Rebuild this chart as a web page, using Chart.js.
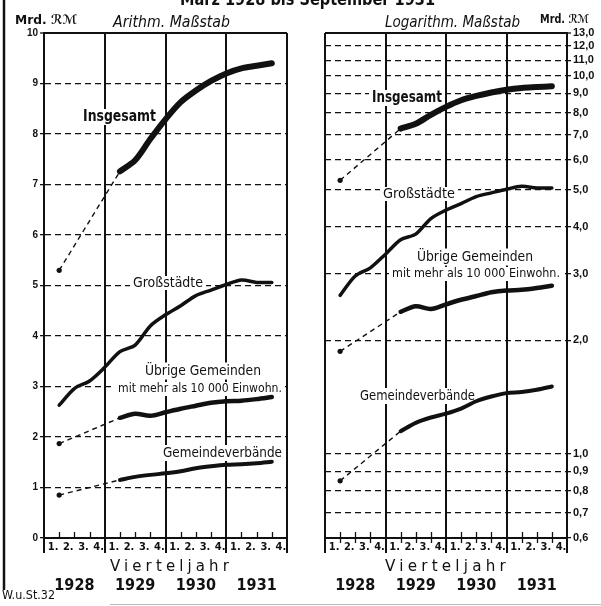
<!DOCTYPE html>
<html>
<head>
<meta charset="utf-8">
<script src="https://cdn.jsdelivr.net/npm/chart.js@4.4.0/dist/chart.umd.min.js"></script>
<style>
  html, body { margin: 0; padding: 0; background: #fff; }
  #wrap { position: relative; width: 601px; height: 606px; overflow: hidden; background: #fff; }
  canvas { position: absolute; left: 0; top: 0; }
</style>
</head>
<body>
<div id="wrap">
  <canvas id="arith" width="601" height="606"></canvas>
  <canvas id="logar" width="601" height="606"></canvas>
</div>
<script>
// quarter ends, counted in quarters from 1.1.1928 (März 1928 = 1 ... Sept. 1931 = 15)
const quarterEnds = [1, 2, 3, 4, 5, 6, 7, 8, 9, 10, 11, 12, 13, 14, 15];
const quarterLabels = ['1.', '2.', '3.', '4.'];
const years = ['1928', '1929', '1930', '1931'];

// Mrd. RM - for 1928 only the March value is given
const insgesamt    = [5.30, null, null, null, 7.26, 7.48, 7.90, 8.29, 8.63, 8.86, 9.05, 9.20, 9.30, 9.35, 9.40];
const grossstaedte = [2.63, 2.96, 3.11, 3.38, 3.69, 3.82, 4.20, 4.42, 4.60, 4.80, 4.91, 5.02, 5.11, 5.06, 5.06];
const uebrige      = [1.87, null, null, null, 2.38, 2.46, 2.42, 2.49, 2.56, 2.62, 2.68, 2.71, 2.72, 2.75, 2.79];
const verbaende    = [0.85, null, null, null, 1.15, 1.21, 1.25, 1.28, 1.32, 1.38, 1.42, 1.45, 1.46, 1.48, 1.51];

const arithTicks = [0, 1, 2, 3, 4, 5, 6, 7, 8, 9, 10];
const logTicks = [0.6, 0.7, 0.8, 0.9, 1, 2, 3, 4, 5, 6, 7, 8, 9, 10, 11, 12, 13];

const INK = '#111';
const NARROW = '"Liberation Sans Narrow", "DejaVu Sans Condensed", "Liberation Sans", sans-serif';

const series = [
  { data: insgesamt, width: 6 },
  { data: grossstaedte, width: 3.5 },
  { data: uebrige, width: 4.5 },
  { data: verbaende, width: 4 }
];

function buildDatasets() {
  const out = [];
  series.forEach(s => {
    out.push({
      data: quarterEnds.map((q, i) => ({ x: q, y: s.data[i] })),
      borderColor: INK,
      borderWidth: s.width,
      borderCapStyle: 'round',
      borderJoinStyle: 'round',
      pointRadius: 0,
      tension: 0.3,
      spanGaps: false,
      fill: false
    });
    // dashed bridge from March 1928 to March 1929
    if (s.data[1] === null) {
      out.push({
        data: [{ x: quarterEnds[0], y: s.data[0] }, { x: quarterEnds[4], y: s.data[4] }],
        borderColor: INK,
        borderWidth: 1.4,
        borderDash: [5, 4],
        pointRadius: [2.6, 0],
        pointBorderWidth: 0,
        pointBackgroundColor: INK,
        fill: false
      });
    }
  });
  return out;
}

// draws a text squeezed into [x0, x1], optionally on a white patch
function fitText(ctx, t) {
  ctx.save();
  ctx.font = t.font;
  if (t.spacing) ctx.letterSpacing = t.spacing;
  const w = ctx.measureText(t.text).width;
  const sx = (t.x1 - t.x0) / w;
  if (t.bg) {
    ctx.fillStyle = '#fff';
    ctx.fillRect(t.x0 - 3, t.y - t.h / 2, t.x1 - t.x0 + 6, t.h);
  }
  ctx.translate(t.x0, t.y);
  ctx.scale(sx, 1);
  ctx.fillStyle = INK;
  ctx.textAlign = 'left';
  ctx.textBaseline = t.base || 'middle';
  ctx.fillText(t.text, 0, 0);
  ctx.restore();
}

function makePanelPlugin(cfg) {
  return {
    id: 'panelText',
    beforeDatasetsDraw(chart) {
      const ctx = chart.ctx;
      const xs = chart.scales.x;
      ctx.save();
      ctx.strokeStyle = INK;
      ctx.lineWidth = 1.3;
      quarterEnds.forEach(q => {
        if (q % 4 === 0) return;
        const px = Math.round(xs.getPixelForValue(q)) + 0.5;
        ctx.beginPath();
        ctx.moveTo(px, xs.top - 6);
        ctx.lineTo(px, xs.top + cfg.tickBelow);
        ctx.stroke();
      });
      ctx.restore();
      cfg.labels.forEach(l => fitText(ctx, Object.assign({ bg: true, h: 14 }, l)));
    },
    afterDraw(chart) {
      const ctx = chart.ctx;
      cfg.headers.forEach(l => fitText(ctx, l));
      if (cfg.frame) {
        ctx.save();
        ctx.strokeStyle = INK;
        ctx.lineWidth = 2.5;
        ctx.beginPath();
        ctx.moveTo(4, 0);
        ctx.lineTo(4, 590);
        ctx.stroke();
        ctx.strokeStyle = '#bbb';
        ctx.lineWidth = 1;
        ctx.beginPath();
        ctx.moveTo(110, 604.5);
        ctx.lineTo(601, 604.5);
        ctx.stroke();
        ctx.restore();
      }
    }
  };
}

// year boundaries plus one label slot inside each quarter
function quarterTicks() {
  const ticks = [];
  years.forEach((y, i) => {
    ticks.push({ value: i * 4 });
    quarterLabels.forEach((q, j) => ticks.push({ value: i * 4 + j + 0.6 }));
  });
  ticks.push({ value: years.length * 4 });
  return ticks;
}

function isYearLine(c) {
  return c.tick && c.tick.value % 4 === 0;
}

function makeChart(id, cfg) {
  const yMax = cfg.yTicks[cfg.yTicks.length - 1];
  return new Chart(document.getElementById(id), {
    type: 'line',
    data: { datasets: buildDatasets() },
    options: {
      responsive: false,
      animation: false,
      events: [],
      layout: { padding: cfg.padding },
      plugins: { legend: { display: false }, tooltip: { enabled: false } },
      scales: {
        x: {
          type: 'linear',
          position: 'bottom',
          weight: 0,
          min: 0,
          max: years.length * 4,
          afterBuildTicks: s => { s.ticks = quarterTicks(); },
          afterFit: s => { s.height = 36; },
          ticks: {
            autoSkip: false,
            maxRotation: 0,
            padding: -12,
            color: INK,
            font: { family: NARROW, size: 11, weight: 'bold' },
            callback: v => (Number.isInteger(v) ? '' : quarterLabels[Math.floor(v) % 4])
          },
          grid: {
            color: c => (isYearLine(c) ? INK : 'transparent'),
            tickColor: c => (isYearLine(c) ? INK : 'transparent'),
            lineWidth: 2,
            tickWidth: 2,
            tickLength: 15
          },
          border: { display: true, color: INK, width: 2 }
        },
        x2: {
          type: 'linear',
          position: 'bottom',
          weight: 1,
          min: 0,
          max: years.length * 4,
          afterBuildTicks: s => { s.ticks = years.map((y, i) => ({ value: i * 4 + 2 })); },
          afterFit: s => { s.height = 22; },
          ticks: {
            autoSkip: false,
            maxRotation: 0,
            padding: 2,
            color: INK,
            font: { family: NARROW, size: 16, weight: 'bold' },
            callback: v => years[(v - 2) / 4]
          },
          grid: { display: false, drawTicks: false },
          border: { display: false }
        },
        y: {
          type: cfg.yType,
          position: cfg.yPos,
          min: cfg.yTicks[0],
          max: yMax,
          afterBuildTicks: s => { s.ticks = cfg.yTicks.map(v => ({ value: v })); },
          afterFit: s => { s.width = cfg.yWidth; },
          ticks: {
            padding: 2,
            color: INK,
            font: { family: '"Liberation Sans", sans-serif', size: cfg.yFont, weight: 'bold' },
            callback: cfg.yFormat
          },
          grid: {
            color: INK,
            lineWidth: c => (c.tick && c.tick.value === yMax ? 2 : 1.3),
            tickLength: 4,
            tickColor: INK,
            tickWidth: 1.3
          },
          border: {
            color: INK,
            width: 2,
            dash: c => (c.tick && c.tick.value !== yMax ? [6, 4] : [])
          }
        }
      }
    },
    plugins: [makePanelPlugin(cfg)]
  });
}

const sans = size => size + 'px ' + NARROW;
const sansBold = size => 'bold ' + size + 'px ' + NARROW;
const italic = size => 'italic ' + size + 'px ' + NARROW;

makeChart('arith', {
  padding: { top: 33, left: 0, right: 314, bottom: 10 },
  yType: 'linear',
  yPos: 'left',
  yTicks: arithTicks,
  yWidth: 44,
  yFont: 10,
  yFormat: v => String(v),
  tickBelow: 0,
  frame: true,
  labels: [
    { text: 'Insgesamt', x0: 83, x1: 156, y: 117, font: sansBold(15), h: 16 },
    { text: 'Großstädte', x0: 133, x1: 203, y: 283, font: sans(14) },
    { text: 'Übrige Gemeinden', x0: 145, x1: 261, y: 371, font: sans(14), h: 17 },
    { text: 'mit mehr als 10 000 Einwohn.', x0: 118, x1: 282, y: 389, font: sans(13) },
    { text: 'Gemeindeverbände', x0: 163, x1: 282, y: 453, font: sans(14), h: 16 },
    { text: 'Vierteljahr', x0: 110, x1: 233, y: 567, font: sans(16), spacing: '4px' }
  ],
  headers: [
    { text: 'März 1928 bis September 1931', x0: 180, x1: 435, y: 5, base: 'alphabetic', font: sansBold(17) },
    { text: 'Mrd. ℛℳ', x0: 15, x1: 77, y: 21, font: sansBold(13) },
    { text: 'Arithm. Maßstab', x0: 113, x1: 230, y: 23, font: italic(15) },
    { text: 'W.u.St.32', x0: 2, x1: 55, y: 596, font: sans(12) }
  ]
});

makeChart('logar', {
  padding: { top: 33, left: 325, right: 0, bottom: 10 },
  yType: 'logarithmic',
  yPos: 'right',
  yTicks: logTicks,
  yWidth: 34,
  yFont: 11,
  yFormat: v => Number(v).toFixed(1).replace('.', ','),
  tickBelow: 5,
  frame: false,
  labels: [
    { text: 'Insgesamt', x0: 372, x1: 442, y: 98, font: sansBold(15), h: 16 },
    { text: 'Großstädte', x0: 383, x1: 455, y: 194, font: sans(14) },
    { text: 'Übrige Gemeinden', x0: 417, x1: 533, y: 257, font: sans(14), h: 17 },
    { text: 'mit mehr als 10 000 Einwohn.', x0: 392, x1: 560, y: 274, font: sans(13) },
    { text: 'Gemeindeverbände', x0: 360, x1: 475, y: 396, font: sans(14), h: 16 },
    { text: 'Vierteljahr', x0: 385, x1: 510, y: 567, font: sans(16), spacing: '4px' }
  ],
  headers: [
    { text: 'Logarithm. Maßstab', x0: 385, x1: 520, y: 23, font: italic(15) },
    { text: 'Mrd. ℛℳ', x0: 540, x1: 589, y: 20, font: sansBold(12) }
  ]
});
</script>
</body>
</html>
